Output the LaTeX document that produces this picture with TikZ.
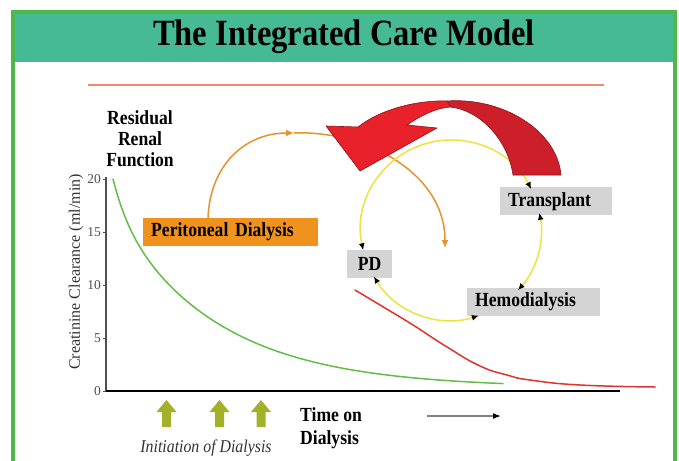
\documentclass[tikz,border=0pt]{standalone}
\usepackage{fontspec}
\setmainfont{Liberation Serif}[FakeStretch=0.88]
\newfontfamily\axisfont{Liberation Serif}
\usetikzlibrary{arrows.meta}

\definecolor{framegreen}{HTML}{4DB848}
\definecolor{band}{HTML}{46B995}
\definecolor{rulecol}{HTML}{F08A6E}
\definecolor{pdorange}{HTML}{F0921E}
\definecolor{arcorange}{HTML}{E8922E}
\definecolor{tagfill}{HTML}{D4D4D4}
\definecolor{cyclecol}{HTML}{EEE23E}
\definecolor{rrf}{HTML}{62BE46}
\definecolor{hdcurve}{HTML}{E2322C}
\definecolor{olive}{HTML}{A3B02A}
\definecolor{headred}{HTML}{E8212B}
\definecolor{bodyred}{HTML}{CC1F29}
\definecolor{edgered}{HTML}{8E1418}
\definecolor{axisgray}{HTML}{505050}
\definecolor{labelgray}{HTML}{333333}

\tikzset{
  tag/.style={fill=tagfill, inner xsep=8pt, inner ysep=0pt, minimum height=28pt,
    anchor=north west, font=\bfseries\fontsize{20}{22}\selectfont},
  cycarrow/.style={draw=cyclecol, line width=1.5pt,
    arrows={Latex[color=black,length=7pt,width=6pt]-Latex[color=black,length=7pt,width=6pt]}},
  orangearc/.style={draw=arcorange, line width=1.5pt, -{Latex[length=8pt,width=7pt]}},
  curve/.style={line width=1.5pt, line cap=round, line join=round},
  upblock/.pic={
    \fill[olive] (-4.5,27) -- (-4.5,12) -- (-10,12) -- (0,0) -- (10,12) -- (4.5,12) -- (4.5,27) -- cycle;
  }
}

\begin{document}
\begin{tikzpicture}[x=1pt,y=-1pt]
\useasboundingbox (0,0) rectangle (679,460);
\fill[white] (0,0) rectangle (679,460);

% frame and title band
\fill[band] (13,12) rectangle (675,62);
\draw[framegreen, line width=4.5pt] (13,470) -- (13,12) -- (675,12) -- (675,470);
\node[font=\bfseries\fontsize{37}{40}\selectfont] (title) at (344,37) {The Integrated Care Model};

% rule under the title
\coordinate (ruleL) at (88,85);
\coordinate (ruleR) at (604,85);
\draw[rulecol, line width=2pt] (ruleL) -- (ruleR);

% axes
\coordinate (yTop) at (106,177);
\coordinate (origin) at (106,391);
\coordinate (xEnd) at (620,391);
\draw[axisgray, line width=1.3pt] (yTop) -- (origin);
\draw[black, line width=1.5pt] (origin) -- (xEnd);
\foreach \v in {0,5,10,15,20}{
  \draw[axisgray, line width=0.8pt] (102.5,{391-10.6*\v}) -- (106,{391-10.6*\v});
  \node[anchor=east, inner sep=0pt, text=axisgray, font=\axisfont\fontsize{13.5}{14}\selectfont]
    (tick\v) at (101,{391-10.6*\v}) {\v};
}
\node[rotate=90, text=labelgray, font=\axisfont\fontsize{16}{18}\selectfont] (ylabel) at (76,272)
  {Creatinine Clearance (ml/min)};
\node[align=center, font=\bfseries\fontsize{20}{21}\selectfont] (rrflabel) at (140,139)
  {Residual\\Renal\\Function};

% clearance curves: residual function falls fast at first, then slowly
\draw[rrf, curve] plot[domain=113:503, samples=100, smooth]
  (\x, {391-10.6*(0.3+3.24*exp(-(\x-113)/15)+16.46*exp(-(\x-113)/105))});
\draw[hdcurve, curve] plot[smooth, tension=0.8] coordinates
  {(355,290) (380,305) (413,325) (447,347) (480,366) (507,375) (530,380) (580,385) (655,387)};

% modality boxes
\node[tag, fill=pdorange, text width=159pt, align=left] (ped) at (143,218) {Peritoneal Dialysis};
\node[tag, text width=96pt, align=left] (tx) at (500,187) {Transplant};
\node[tag, text width=29pt, inner xsep=8pt, align=center] (pd) at (347,250) {PD};
\node[tag, text width=117pt, align=left] (hd) at (467,288) {Hemodialysis};

% orange path from peritoneal dialysis into the cycle
\coordinate (oS) at (208,218);
\coordinate (oM) at (294,133);
\coordinate (oE) at (445,248);
\draw[orangearc] (oS) .. controls (210,165) and (245,133) .. (oM);
\draw[orangearc] (oM) .. controls (360,130) and (445,170) .. (oE);

% modality cycle
\coordinate (cyc) at (451,230);
\draw[cycarrow] ([shift={(167:90)}]cyc) arc[start angle=167, end angle=333, radius=90];
\draw[cycarrow] ([shift={(349:90)}]cyc) arc[start angle=349, end angle=402, radius=90];
\draw[cycarrow] ([shift={(72:90)}]cyc) arc[start angle=72, end angle=149, radius=90];

% big curved red arrow
\filldraw[fill=bodyred, draw=edgered, line width=0.6pt]
  (447,101) .. controls (502,97) and (557,130) .. (561,175) -- (513,175)
  .. controls (508,140) and (480,110) .. (450,107) -- cycle;
\filldraw[fill=headred, draw=edgered, line width=0.6pt, line join=round]
  (447,101) .. controls (420,100) and (382,108) .. (358,127) -- (326,126) -- (360,171)
  -- (437,128) -- (407,125) .. controls (420,116) and (436,108) .. (450,107) -- cycle;

% initiation markers
\pic at (166.5,400) {upblock};
\pic at (219.5,400) {upblock};
\pic at (261,400) {upblock};
\node[font=\itshape\fontsize{18}{20}\selectfont, text=labelgray] (init) at (206,448) {Initiation of Dialysis};

% time axis caption
\node[anchor=west, align=left, inner sep=0pt, font=\bfseries\fontsize{20}{23}\selectfont] (time) at (300,428.5)
  {Time on\\Dialysis};
\coordinate (tA) at (427,416);
\coordinate (tB) at (501,416);
\draw[gray, line width=1.5pt, -{Latex[color=black,length=8pt,width=6pt]}] (tA) -- (tB);
\end{tikzpicture}
\end{document}
